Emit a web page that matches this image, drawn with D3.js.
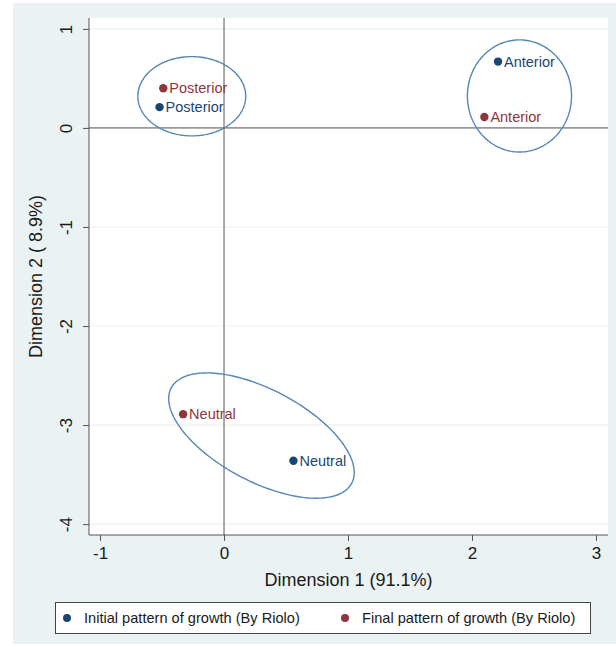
<!DOCTYPE html>
<html>
<head>
<meta charset="utf-8">
<script src="https://cdn.jsdelivr.net/npm/d3@7"></script>
<style>
  html, body { margin: 0; padding: 0; background: #ffffff; }
  svg { display: block; font-family: "Liberation Sans", Arial, sans-serif; }
</style>
</head>
<body>
<svg id="chart" width="616" height="646"></svg>
<script>
// Correspondence analysis map: growth pattern categories (By Riolo)
const categories = ["Anterior", "Posterior", "Neutral"];
const seriesNames = ["Initial pattern of growth (By Riolo)", "Final pattern of growth (By Riolo)"];
const initialDim1 = [2.21, -0.52, 0.56];
const initialDim2 = [0.67, 0.21, -3.36];
const finalDim1 = [2.10, -0.49, -0.33];
const finalDim2 = [0.11, 0.40, -2.89];
const xTicks = [-1, 0, 1, 2, 3];
const yTicks = [-4, -3, -2, -1, 0, 1];

// Grouping ellipses in data units: centre, and two conjugate half-axis vectors
const ellipseCx = [2.383, -0.26, 0.302];
const ellipseCy = [0.323, 0.32, -3.106];
const ellipseU = [[0.42, 0], [0.435, 0], [0.728, -0.481]];
const ellipseV = [[0, 0.566], [0, 0.40], [-0.173, -0.411]];

const colors = ["#1a476f", "#90353b"];
const bg = "#eaf2f3";
const ink = "#1a1a1a";

const svg = d3.select("#chart");

// Outer graph region
svg.append("rect").attr("x", 13).attr("y", 3).attr("width", 603).attr("height", 641).attr("fill", bg);

const plot = { left: 89, right: 608, top: 18, bottom: 535 };
plot.width = plot.right - plot.left;
plot.height = plot.bottom - plot.top;

const x = d3.scaleLinear().domain([-1.089, 3.097]).range([plot.left, plot.right]);
const y = d3.scaleLinear().domain([-4.11, 1.11]).range([plot.bottom, plot.top]);

svg.append("rect").attr("x", plot.left).attr("y", plot.top)
  .attr("width", plot.width).attr("height", plot.height).attr("fill", "#ffffff");

// Horizontal grid lines
svg.append("g").selectAll("line").data(yTicks).join("line")
  .attr("x1", plot.left).attr("x2", plot.right)
  .attr("y1", d => y(d)).attr("y2", d => y(d))
  .attr("stroke", bg).attr("stroke-width", 1.2);

// Reference lines at zero
svg.append("line").attr("x1", x(0)).attr("x2", x(0)).attr("y1", plot.top).attr("y2", plot.bottom)
  .attr("stroke", "#555").attr("stroke-width", 1);
svg.append("line").attr("x1", plot.left).attr("x2", plot.right).attr("y1", y(0)).attr("y2", y(0))
  .attr("stroke", "#555").attr("stroke-width", 1);

// Axes
const fmt = d => String(d);
const xAxis = d3.axisBottom(x).tickValues(xTicks).tickSize(6).tickPadding(6).tickFormat(fmt);
const gx = svg.append("g").attr("transform", `translate(0,${plot.bottom})`).call(xAxis);
gx.select(".domain").attr("stroke", "#555").attr("d", `M${plot.left},0H${plot.right}`);
gx.selectAll(".tick line").attr("stroke", "#555");
gx.selectAll(".tick text").attr("font-size", 17).attr("fill", ink)
  .attr("font-family", "Liberation Sans, Arial, sans-serif");

const yAxis = d3.axisLeft(y).tickValues(yTicks).tickSize(6).tickPadding(0).tickFormat(fmt);
const gy = svg.append("g").attr("transform", `translate(${plot.left},0)`).call(yAxis);
gy.select(".domain").attr("stroke", "#555").attr("d", `M0,${plot.top}V${plot.bottom}`);
gy.selectAll(".tick line").attr("stroke", "#555");
gy.selectAll(".tick text")
  .attr("font-size", 17).attr("fill", ink)
  .attr("font-family", "Liberation Sans, Arial, sans-serif")
  .attr("x", null)
  .attr("text-anchor", "middle")
  .attr("transform", "translate(-23,0) rotate(-90)")
  .attr("dy", "0.35em");

// Axis titles
svg.append("text").attr("x", (plot.left + plot.right) / 2).attr("y", 586)
  .attr("text-anchor", "middle").attr("font-size", 18).attr("fill", ink)
  .text("Dimension 1 (91.1%)");
svg.append("text")
  .attr("transform", `translate(42,${(plot.top + plot.bottom) / 2}) rotate(-90)`)
  .attr("text-anchor", "middle").attr("font-size", 18).attr("fill", ink)
  .text("Dimension 2 ( 8.9%)");

// Ellipses
const ellipses = categories.map((c, i) => {
  return d3.range(0, 2 * Math.PI + 0.001, Math.PI / 90).map(t => [
    x(ellipseCx[i] + ellipseU[i][0] * Math.cos(t) + ellipseV[i][0] * Math.sin(t)),
    y(ellipseCy[i] + ellipseU[i][1] * Math.cos(t) + ellipseV[i][1] * Math.sin(t))
  ]);
});
svg.append("g").selectAll("path").data(ellipses).join("path")
  .attr("d", d => d3.line()(d) + "Z")
  .attr("fill", "none").attr("stroke", "#5586b6").attr("stroke-width", 1.4);

// Points and labels
const series = [
  { name: seriesNames[0], xs: initialDim1, ys: initialDim2, color: colors[0] },
  { name: seriesNames[1], xs: finalDim1, ys: finalDim2, color: colors[1] }
];
series.forEach(s => {
  const g = svg.append("g");
  const data = categories.map((c, i) => ({ c, vx: s.xs[i], vy: s.ys[i] }));
  g.selectAll("circle").data(data).join("circle")
    .attr("cx", d => x(d.vx)).attr("cy", d => y(d.vy)).attr("r", 4.2)
    .attr("fill", s.color);
  g.selectAll("text").data(data).join("text")
    .attr("x", d => x(d.vx) + 6).attr("y", d => y(d.vy))
    .attr("dy", "0.35em").attr("font-size", 14.5).attr("fill", s.color)
    .text(d => d.c);
});

// Legend
const legend = svg.append("g");
legend.append("rect").attr("x", 55.5).attr("y", 602.5).attr("width", 535).attr("height", 31)
  .attr("fill", "#ffffff").attr("stroke", "#444").attr("stroke-width", 1);
const legendX = [67, 345];
series.forEach((s, i) => {
  legend.append("circle").attr("cx", legendX[i]).attr("cy", 618).attr("r", 4).attr("fill", s.color);
  legend.append("text").attr("x", legendX[i] + 17).attr("y", 618).attr("dy", "0.35em")
    .attr("font-size", 14.6).attr("fill", ink).text(s.name);
});
</script>
</body>
</html>
